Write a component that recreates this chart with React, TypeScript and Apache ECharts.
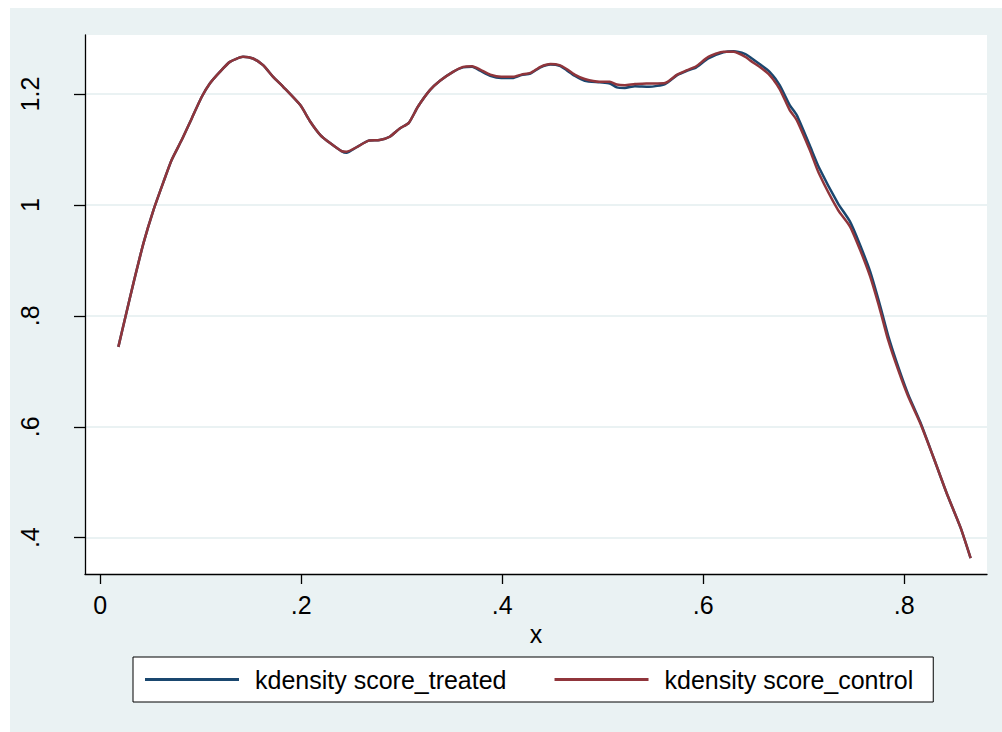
import React, { useEffect, useRef } from "react";
import * as echarts from "echarts";

// x grid at which both densities are evaluated
const xs = [
  0.018, 0.025, 0.033, 0.043, 0.053, 0.063, 0.071, 0.081, 0.091, 0.101,
  0.109, 0.119, 0.129, 0.142, 0.152, 0.162, 0.172, 0.182, 0.199, 0.209,
  0.219, 0.229, 0.240, 0.245, 0.255, 0.267, 0.278, 0.288, 0.298, 0.307,
  0.316, 0.328, 0.338, 0.351, 0.361, 0.370, 0.378, 0.388, 0.399, 0.411,
  0.419, 0.428, 0.438, 0.448, 0.457, 0.464, 0.472, 0.482, 0.497, 0.507,
  0.514, 0.522, 0.532, 0.546, 0.562, 0.574, 0.584, 0.593, 0.605, 0.620,
  0.630, 0.642, 0.647, 0.656, 0.666, 0.676, 0.686, 0.693, 0.706, 0.715,
  0.734, 0.746, 0.756, 0.766, 0.776, 0.784, 0.794, 0.804, 0.816, 0.829,
  0.842, 0.856, 0.866,
];

const treated = [
  0.744, 0.798, 0.859, 0.931, 0.991, 1.042, 1.081, 1.117, 1.156, 1.195,
  1.219, 1.240, 1.258, 1.267, 1.264, 1.252, 1.231, 1.213, 1.180, 1.150,
  1.126, 1.111, 1.097, 1.094, 1.104, 1.116, 1.117, 1.123, 1.138, 1.148,
  1.177, 1.207, 1.224, 1.240, 1.248, 1.249, 1.242, 1.233, 1.229, 1.229,
  1.234, 1.237, 1.248, 1.253, 1.251, 1.243, 1.233, 1.224, 1.221, 1.219,
  1.212, 1.211, 1.214, 1.213, 1.218, 1.234, 1.242, 1.248, 1.264, 1.275,
  1.277, 1.272, 1.266, 1.254, 1.240, 1.216, 1.180, 1.162, 1.107, 1.068,
  1.003, 0.970, 0.928, 0.880, 0.818, 0.764, 0.708, 0.658, 0.608, 0.545,
  0.481, 0.418, 0.363,
];

const control = [
  0.744, 0.798, 0.859, 0.931, 0.991, 1.042, 1.081, 1.117, 1.156, 1.195,
  1.219, 1.240, 1.258, 1.267, 1.264, 1.252, 1.231, 1.213, 1.180, 1.150,
  1.126, 1.111, 1.097, 1.096, 1.104, 1.116, 1.117, 1.123, 1.138, 1.148,
  1.177, 1.207, 1.224, 1.240, 1.249, 1.250, 1.244, 1.235, 1.231, 1.231,
  1.235, 1.238, 1.249, 1.254, 1.252, 1.245, 1.235, 1.227, 1.222, 1.222,
  1.217, 1.216, 1.218, 1.219, 1.220, 1.235, 1.243, 1.250, 1.267, 1.276,
  1.276, 1.267, 1.260, 1.249, 1.234, 1.209, 1.171, 1.153, 1.099, 1.057,
  0.991, 0.961, 0.919, 0.871, 0.810, 0.756, 0.702, 0.654, 0.606, 0.545,
  0.481, 0.418, 0.363,
];

const xTicks = [0, 0.2, 0.4, 0.6, 0.8];
const yTicks = [0.4, 0.6, 0.8, 1, 1.2];
const seriesNames = ["kdensity score_treated", "kdensity score_control"];
const xTitle = "x";

const fmt = (v: number) => {
  const s = String(Number(v.toFixed(3)));
  return s.replace(/^0\./, ".");
};

const FONT = "'Liberation Sans', Arial, Helvetica, sans-serif";
const BG = "#eaf2f3";

export default function App() {
  const ref = useRef<HTMLDivElement>(null);
  useEffect(() => {
    if (!ref.current) return;
    const chart = echarts.init(ref.current, null, { renderer: "svg" });
    const pairs = (ys: number[]) => xs.map((x, i) => [x, ys[i]]);
    chart.setOption({
      animation: false,
      backgroundColor: BG,
      textStyle: { fontFamily: FONT },
      grid: {
        left: 75,
        right: 15,
        top: 27,
        bottom: 158,
        show: true,
        backgroundColor: "#ffffff",
        borderWidth: 0,
        containLabel: false,
      },
      legend: {
        left: 123,
        top: 649,
        orient: "horizontal",
        backgroundColor: "#ffffff",
        borderColor: "#000000",
        borderWidth: 1,
        padding: [10, 20, 10, 12],
        itemWidth: 94,
        itemHeight: 3,
        itemGap: 48,
        icon: "rect",
        textStyle: {
          fontFamily: FONT,
          fontSize: 25,
          color: "#000000",
          padding: [0, 0, 0, 11],
        },
        data: seriesNames,
      },
      xAxis: {
        type: "value",
        min: -0.0152,
        max: 0.8823,
        name: xTitle,
        nameLocation: "middle",
        nameGap: 42,
        nameTextStyle: { fontFamily: FONT, fontSize: 25, color: "#000" },
        axisLine: { show: true, onZero: false, lineStyle: { color: "#000", width: 1.3 } },
        axisTick: {
          show: true,
          length: 10,
          customValues: xTicks,
          lineStyle: { color: "#000", width: 1.3 },
        },
        axisLabel: {
          customValues: xTicks,
          formatter: (v: number) => fmt(v),
          fontFamily: FONT,
          fontSize: 25,
          color: "#000",
          margin: 18,
        },
        splitLine: { show: false },
      },
      yAxis: {
        type: "value",
        min: 0.3345,
        max: 1.3064,
        axisLine: { show: true, onZero: false, lineStyle: { color: "#000", width: 1.3 } },
        axisTick: {
          show: true,
          length: 11,
          customValues: yTicks,
          lineStyle: { color: "#000", width: 1.3 },
        },
        axisLabel: {
          customValues: yTicks,
          formatter: (v: number) => fmt(v),
          rotate: 90,
          fontFamily: FONT,
          fontSize: 25,
          color: "#000",
          margin: 43,
        },
        splitLine: { show: true, lineStyle: { color: BG, width: 2 } },
      },
      series: [
        {
          name: seriesNames[0],
          type: "line",
          data: pairs(treated),
          symbol: "none",
          smooth: 0.2,
          color: "#1a476f",
          lineStyle: { color: "#1a476f", width: 2.5 },
          z: 2,
        },
        {
          name: seriesNames[1],
          type: "line",
          data: pairs(control),
          symbol: "none",
          smooth: 0.2,
          color: "#90353b",
          lineStyle: { color: "#90353b", width: 2.5 },
          z: 3,
        },
      ],
    });
    return () => chart.dispose();
  }, []);
  return (
    <div
      ref={ref}
      style={{ position: "fixed", left: 10, top: 8, width: 992, height: 724 }}
    />
  );
}
